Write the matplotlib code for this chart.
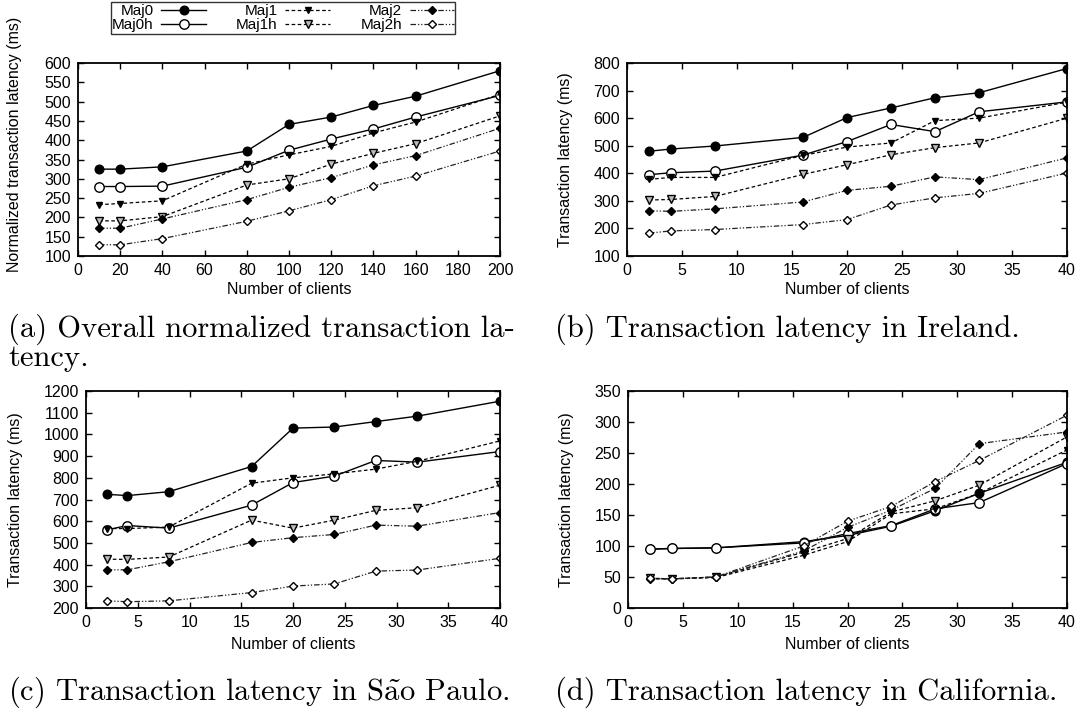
import matplotlib
matplotlib.use("Agg")
import matplotlib.pyplot as plt

plt.rcParams["mathtext.fontset"] = "cm"
plt.rcParams["lines.scale_dashes"] = False

W, H = 1080, 717
TICK_FONT = "Liberation Sans"
CAPTION_FONT = ["cmr10", "DejaVu Serif"]

series_names = ["Maj0", "Maj0h", "Maj1", "Maj1h", "Maj2", "Maj2h"]

# x values
clients_overall = [10, 20, 40, 80, 100, 120, 140, 160, 200]
clients_site = [2, 4, 8, 16, 20, 24, 28, 32, 40]

# (a) overall normalized latency (ms)
overall_maj0 = [325, 325, 331, 372, 441, 460, 490, 514, 580]
overall_maj0h = [280, 280, 281, 330, 374, 403, 429, 460, 516]
overall_maj1 = [233, 236, 243, 338, 362, 384, 419, 447, 519]
overall_maj1h = [191, 191, 202, 284, 300, 338, 366, 391, 463]
overall_maj2 = [172, 172, 196, 246, 278, 303, 336, 360, 431]
overall_maj2h = [129, 129, 145, 190, 217, 246, 282, 307, 372]

# (b) Ireland (ms)
ireland_maj0 = [480, 488, 499, 530, 602, 637, 674, 692, 780]
ireland_maj0h = [395, 402, 408, 466, 515, 577, 551, 623, 659]
ireland_maj1 = [378, 385, 385, 465, 495, 510, 591, 600, 658]
ireland_maj1h = [303, 305, 316, 396, 431, 467, 493, 510, 600]
ireland_maj2 = [264, 262, 271, 296, 338, 353, 387, 377, 456]
ireland_maj2h = [183, 191, 196, 214, 232, 285, 311, 327, 401]

# (c) Sao Paulo (ms)
saopaulo_maj0 = [724, 718, 736, 852, 1029, 1034, 1059, 1084, 1153]
saopaulo_maj0h = [560, 580, 568, 674, 778, 808, 880, 872, 921]
saopaulo_maj1 = [566, 566, 573, 775, 800, 818, 840, 876, 970]
saopaulo_maj1h = [425, 424, 435, 605, 568, 605, 650, 662, 766]
saopaulo_maj2 = [376, 376, 413, 502, 524, 539, 582, 577, 640]
saopaulo_maj2h = [233, 229, 233, 271, 301, 311, 370, 375, 429]

# (d) California (ms)
california_maj0 = [95, 96, 97, 107, 117, 132, 157, 185, 235]
california_maj0h = [95, 96, 97, 105, 120, 133, 160, 170, 233]
california_maj1 = [47, 47, 49, 85, 107, 152, 160, 185, 255]
california_maj1h = [48, 47, 50, 90, 112, 155, 173, 198, 276]
california_maj2 = [47, 47, 50, 92, 130, 158, 193, 265, 284]
california_maj2h = [48, 47, 50, 100, 140, 164, 204, 238, 311]

SOLID = "-"
DASHED = (0, (2.6, 1.8))
DASH_DOT_DOT = (0, (4.0, 1.4, 0.9, 1.4, 0.9, 1.4))

styles = {
    "Maj0": dict(ls=SOLID, marker="o", ms=6.2, mfc="black", color="black", lw=1.0),
    "Maj0h": dict(ls=SOLID, marker="o", ms=6.8, mfc="white", color="black", lw=1.0),
    "Maj1": dict(ls=DASHED, marker="v", ms=5.0, mfc="black", color="black", lw=0.9),
    "Maj1h": dict(ls=DASHED, marker="v", ms=5.5, mfc="#bdbdbd", color="black", lw=0.9),
    "Maj2": dict(ls=DASH_DOT_DOT, marker="D", ms=4.0, mfc="black", color="#222222", lw=0.9),
    "Maj2h": dict(ls=DASH_DOT_DOT, marker="D", ms=4.5, mfc="white", color="#222222", lw=0.9),
}


def px_axes(left, right, top, bottom):
    return fig.add_axes([left / W, 1 - bottom / H, (right - left) / W, (bottom - top) / H])


def draw_panel(ax, x, ys, xlim, xticks, ylim, yticks, ylabel, ylabel_x, ylabel_y, xlabel_y):
    for name, y in zip(series_names, ys):
        st = styles[name]
        ax.plot(x, y, linestyle=st["ls"], color=st["color"], lw=st["lw"],
                marker=st["marker"], ms=st["ms"], mfc=st["mfc"], mec="black",
                mew=1.0, label=name, dash_capstyle="butt")
    ax.set_xlim(*xlim)
    ax.set_ylim(*ylim)
    ax.set_xticks(xticks)
    ax.set_yticks(yticks)
    ax.tick_params(direction="in", length=4, width=1.0, top=True, right=True,
                   labelsize=11.5, pad=5)
    for lab in ax.get_xticklabels() + ax.get_yticklabels():
        lab.set_fontfamily(TICK_FONT)
    for sp in ax.spines.values():
        sp.set_linewidth(1.3)
    ax.set_xlabel("Number of clients", fontsize=11.5, fontfamily=TICK_FONT)
    ax.xaxis.label.set_va("center")
    ax.xaxis.set_label_coords(0.5, xlabel_y)
    ax.set_ylabel(ylabel, fontsize=11.5, fontfamily=TICK_FONT)
    ax.yaxis.label.set_va("center")
    ax.yaxis.set_label_coords(ylabel_x, ylabel_y)


fig = plt.figure(figsize=(W / 100, H / 100), dpi=100)

# (a)
ax_a = px_axes(78, 500, 63, 256)
draw_panel(ax_a, clients_overall,
           [overall_maj0, overall_maj0h, overall_maj1, overall_maj1h, overall_maj2, overall_maj2h],
           (0, 200), range(0, 201, 20), (100, 600), range(100, 601, 50),
           "Normalized transaction latency (ms)", -0.15, 0.58, -0.175)

# (b)
ax_b = px_axes(627, 1067, 63, 256)
draw_panel(ax_b, clients_site,
           [ireland_maj0, ireland_maj0h, ireland_maj1, ireland_maj1h, ireland_maj2, ireland_maj2h],
           (0, 40), range(0, 41, 5), (100, 800), range(100, 801, 100),
           "Transaction latency (ms)", -0.14, 0.5, -0.175)

# (c)
ax_c = px_axes(86, 500, 391, 608)
draw_panel(ax_c, clients_site,
           [saopaulo_maj0, saopaulo_maj0h, saopaulo_maj1, saopaulo_maj1h, saopaulo_maj2, saopaulo_maj2h],
           (0, 40), range(0, 41, 5), (200, 1200), range(200, 1201, 100),
           "Transaction latency (ms)", -0.17, 0.5, -0.17)

# (d)
ax_d = px_axes(628, 1067, 391, 608)
draw_panel(ax_d, clients_site,
           [california_maj0, california_maj0h, california_maj1, california_maj1h, california_maj2, california_maj2h],
           (0, 40), range(0, 41, 5), (0, 350), range(0, 351, 50),
           "Transaction latency (ms)", -0.14, 0.5, -0.17)

# shared legend above panel (a)
handles, labels = ax_a.get_legend_handles_labels()
leg = fig.legend(handles, labels, ncol=3, markerfirst=False,
                 loc="center", bbox_to_anchor=(283 / W, 1 - 18 / H),
                 frameon=True, fancybox=False, edgecolor="black",
                 prop={"family": TICK_FONT, "size": 11},
                 handlelength=2.9, handletextpad=0.5, columnspacing=2.0,
                 labelspacing=0.0, borderpad=0.1, borderaxespad=0)
leg.get_frame().set_linewidth(1.0)

# sub-figure captions
cap_kw = dict(fontsize=22, family=CAPTION_FONT, ha="left", va="center")
fig.text(8 / W, 1 - 329 / H, "(a) Overall normalized transaction la-", **cap_kw)
fig.text(8 / W, 1 - 358 / H, "tency.", **cap_kw)
fig.text(555 / W, 1 - 329 / H, "(b) Transaction latency in Ireland.", **cap_kw)
fig.text(8 / W, 1 - 692 / H, r"(c) Transaction latency in S$\tilde{\mathrm{a}}$o Paulo.", **cap_kw)
fig.text(555 / W, 1 - 692 / H, "(d) Transaction latency in California.", **cap_kw)

fig.savefig("out.png", dpi=100)
